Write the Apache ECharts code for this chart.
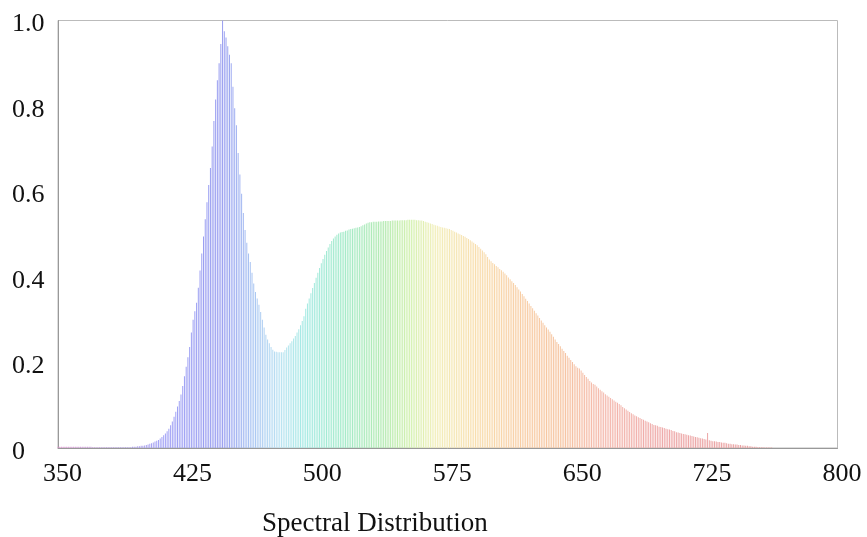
<!DOCTYPE html>
<html>
<head>
<meta charset="utf-8">
<script src="https://cdn.jsdelivr.net/npm/echarts@6/dist/echarts.min.js"></script>
<style>
  html, body { margin: 0; padding: 0; background: #fff; }
  #chart { width: 867px; height: 537px; }
</style>
</head>
<body>
<div id="chart"></div>
<script>
// Wavelengths (nm), 1 nm steps from 350 to 800
const startWavelength = 350;
const endWavelength = 800;
// Relative intensity, one value per nm
const intensity350to399 = [
  .003,.003,.003,.003,.003,.003,.003,.003,.003,.003,
  .003,.003,.003,.003,.003,.003,.003,.003,.003,.003,
  .002,.002,.002,.002,.002,.002,.002,.002,.002,.002,
  .002,.002,.002,.002,.002,.002,.002,.002,.002,.002,
  .002,.002,.002,.003,.003,.003,.004,.004,.005,.005
];
const intensity400to449 = [
  .006,.007,.008,.010,.011,.013,.015,.017,.019,.022,
  .026,.030,.034,.039,.045,.053,.062,.073,.085,.097,
  .110,.125,.145,.168,.190,.212,.236,.270,.300,.320,
  .340,.375,.415,.455,.495,.535,.575,.615,.655,.705,
  .765,.815,.860,.900,.945,1.000,.975,.960,.940,.920
];
const intensity450to499 = [
  .900,.845,.795,.755,.690,.640,.595,.550,.510,.480,
  .455,.435,.410,.385,.365,.350,.335,.318,.300,.282,
  .265,.254,.245,.236,.230,.226,.225,.224,.224,.224,
  .224,.229,.235,.240,.245,.250,.256,.262,.270,.278,
  .287,.297,.308,.326,.338,.350,.362,.374,.386,.398
];
const intensity500to549 = [
  .410,.421,.432,.442,.452,.461,.469,.477,.484,.490,
  .495,.499,.502,.504,.505,.506,.508,.509,.511,.512,
  .513,.514,.515,.516,.517,.519,.521,.523,.525,.527,
  .528,.528,.529,.529,.529,.530,.530,.530,.531,.531,
  .531,.531,.531,.532,.532,.532,.532,.532,.533,.533
];
const intensity550to599 = [
  .533,.533,.534,.534,.534,.534,.534,.533,.533,.532,
  .532,.531,.529,.528,.527,.525,.524,.522,.521,.520,
  .518,.517,.516,.515,.514,.513,.512,.510,.508,.506,
  .504,.502,.500,.498,.496,.494,.491,.489,.486,.483,
  .480,.477,.474,.470,.466,.462,.458,.453,.447,.441
];
const intensity600to649 = [
  .437,.433,.430,.426,.423,.419,.416,.412,.408,.404,
  .399,.395,.390,.386,.381,.376,.371,.366,.360,.355,
  .349,.344,.338,.332,.327,.321,.315,.310,.304,.298,
  .293,.287,.282,.277,.272,.266,.260,.254,.248,.243,
  .238,.232,.227,.222,.216,.211,.206,.201,.196,.191
];
const intensity650to699 = [
  .188,.186,.181,.176,.171,.166,.162,.157,.153,.150,
  .148,.144,.140,.136,.133,.130,.126,.123,.120,.117,
  .114,.111,.108,.106,.103,.100,.096,.093,.090,.087,
  .084,.081,.079,.076,.074,.072,.070,.068,.066,.064,
  .062,.060,.058,.056,.054,.053,.052,.050,.049,.048
];
const intensity700to749 = [
  .047,.045,.044,.043,.042,.040,.039,.037,.036,.035,
  .034,.033,.032,.031,.030,.029,.028,.027,.026,.025,
  .024,.023,.022,.021,.020,.035,.018,.017,.016,.016,
  .015,.014,.014,.013,.012,.012,.011,.010,.010,.009,
  .009,.008,.008,.007,.007,.006,.006,.005,.005,.004
];
const intensity750to800 = [
  .004,.003,.003,.003,.002,.002,.002,.002,.001,.001,
  .001,.001,.001,0,0,0,0,0,0,0,
  0,0,0,0,0,0,0,0,0,0,
  0,0,0,0,0,0,0,0,0,0,
  0,0,0,0,0,0,0,0,0,0,
  0
];
const xTicks = [350, 425, 500, 575, 650, 725, 800];
const yTicks = [0, 0.2, 0.4, 0.6, 0.8, 1.0];
const chartTitle = 'Spectral Distribution';

const intensity = [].concat(intensity350to399, intensity400to449, intensity450to499,
  intensity500to549, intensity550to599, intensity600to649, intensity650to699,
  intensity700to749, intensity750to800);

// pastel colour ramp by wavelength (style only)
const colorStops = [
  [350, [232, 160, 216]], [385, [180, 160, 228]], [410, [162, 162, 246]],
  [445, [152, 158, 240]], [462, [168, 196, 242]], [478, [186, 226, 242]],
  [492, [164, 234, 228]], [515, [162, 234, 200]], [538, [178, 234, 176]],
  [553, [208, 240, 172]], [568, [242, 238, 184]], [590, [248, 222, 172]],
  [615, [248, 206, 164]], [640, [246, 196, 160]], [665, [244, 184, 172]],
  [700, [238, 168, 168]], [800, [228, 156, 156]]
];
function wavelengthColor(w) {
  for (let i = 0; i < colorStops.length - 1; i++) {
    const a = colorStops[i], b = colorStops[i + 1];
    if (w <= b[0]) {
      const t = Math.max(0, (w - a[0]) / (b[0] - a[0]));
      const c = a[1].map((v, k) => Math.round(v + (b[1][k] - v) * t));
      return 'rgb(' + c.join(',') + ')';
    }
  }
  return 'rgb(' + colorStops[colorStops.length - 1][1].join(',') + ')';
}

const data = intensity.map((v, i) => {
  const w = startWavelength + i;
  return { value: [w, v], itemStyle: { color: wavelengthColor(w) } };
});

const font = '"Liberation Serif", "Times New Roman", serif';
const chart = echarts.init(document.getElementById('chart'), null, { renderer: 'canvas' });
chart.setOption({
  animation: false,
  backgroundColor: '#fff',
  title: {
    text: chartTitle,
    left: 257, top: 505,
    textStyle: { fontFamily: font, fontSize: 27, fontWeight: 'normal', color: '#111' }
  },
  grid: {
    left: 58, right: 29.5, top: 20.5, bottom: 89,
    show: true, borderColor: '#bbb', borderWidth: 1, backgroundColor: 'transparent'
  },
  xAxis: {
    type: 'value', min: xTicks[0], max: xTicks[xTicks.length - 1], interval: 75,
    axisLine: { show: true, lineStyle: { color: '#999' } },
    axisTick: { show: false },
    splitLine: { show: false },
    axisLabel: { fontFamily: font, fontSize: 26, color: '#111', margin: 13, padding: [0, 0, 0, 9] }
  },
  yAxis: {
    type: 'value', min: yTicks[0], max: yTicks[yTicks.length - 1], interval: 0.2,
    axisLine: { show: true, lineStyle: { color: '#999' } },
    axisTick: { show: false },
    splitLine: { show: false },
    axisLabel: {
      align: 'left', margin: 46,
      formatter: v => '{t|' + (v === 0 ? '0' : v.toFixed(1)) + '}',
      rich: {
        t: { fontFamily: font, fontSize: 26, color: '#111', padding: [8, 0, 0, 0] }
      }
    }
  },
  series: [{
    type: 'bar',
    data: data,
    barWidth: 1,
    large: false
  }]
});
</script>
</body>
</html>
